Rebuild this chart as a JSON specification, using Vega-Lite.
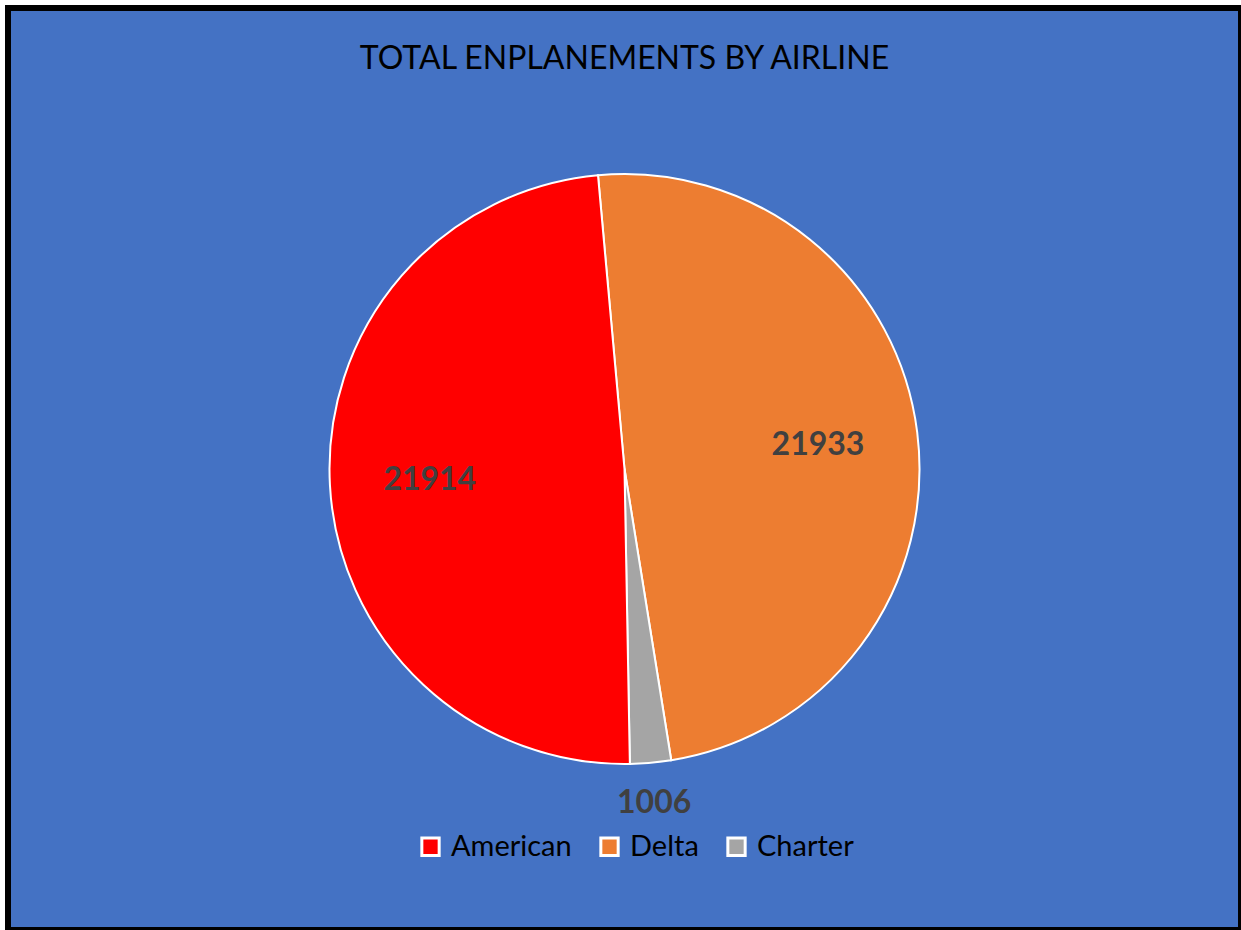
{
  "$schema": "https://vega.github.io/schema/vega-lite/v6.json",
  "width": 1241,
  "height": 930,
  "autosize": {"type": "fit", "contains": "padding"},
  "padding": {"left": 8, "top": 8, "right": 0, "bottom": 0},
  "background": "white",
  "view": {"fill": "#4472C4", "stroke": "#000000", "strokeWidth": 6},
  "title": {
    "text": "TOTAL ENPLANEMENTS BY AIRLINE",
    "anchor": "middle",
    "offset": -68,
    "font": "Lato",
    "fontSize": 32,
    "fontWeight": "normal",
    "color": "#000000"
  },
  "data": {
    "values": [
      {"airline": "Delta", "enplanements": 21933, "slice": 1},
      {"airline": "Charter", "enplanements": 1006, "slice": 2},
      {"airline": "American", "enplanements": 21914, "slice": 3}
    ]
  },
  "encoding": {
    "theta": {"field": "enplanements", "type": "quantitative", "stack": true},
    "order": {"field": "slice", "type": "quantitative"},
    "color": {
      "field": "airline",
      "type": "nominal",
      "scale": {"domain": ["American", "Delta", "Charter"], "range": ["#FF0000", "#ED7D31", "#A5A5A5"]},
      "legend": {
        "title": null,
        "orient": "none",
        "direction": "horizontal",
        "legendX": 408,
        "legendY": 824,
        "symbolType": "square",
        "symbolSize": 300,
        "symbolStrokeColor": "white",
        "symbolStrokeWidth": 3,
        "symbolOpacity": 1,
        "labelFont": "Lato",
        "labelFontSize": 29,
        "labelColor": "#000000",
        "columnPadding": 22,
        "labelOffset": 6
      }
    }
  },
  "layer": [
    {
      "mark": {"type": "arc", "outerRadius": 295, "stroke": "white", "strokeWidth": 2, "thetaOffset": -0.09}
    },
    {
      "mark": {"type": "text", "radius": 195, "thetaOffset": -0.09, "font": "Lato", "fontSize": 32, "fontWeight": "bold", "color": "#404040"},
      "encoding": {
        "text": {
          "condition": {"test": "datum.enplanements > 5000", "field": "enplanements", "type": "quantitative", "format": "d"},
          "value": ""
        },
        "color": {"value": "#404040"}
      }
    },
    {
      "mark": {"type": "text", "radius": 335, "thetaOffset": -0.09, "font": "Lato", "fontSize": 32, "fontWeight": "bold", "color": "#404040"},
      "encoding": {
        "text": {
          "condition": {"test": "datum.enplanements < 5000", "field": "enplanements", "type": "quantitative", "format": "d"},
          "value": ""
        },
        "color": {"value": "#404040"}
      }
    }
  ]
}
